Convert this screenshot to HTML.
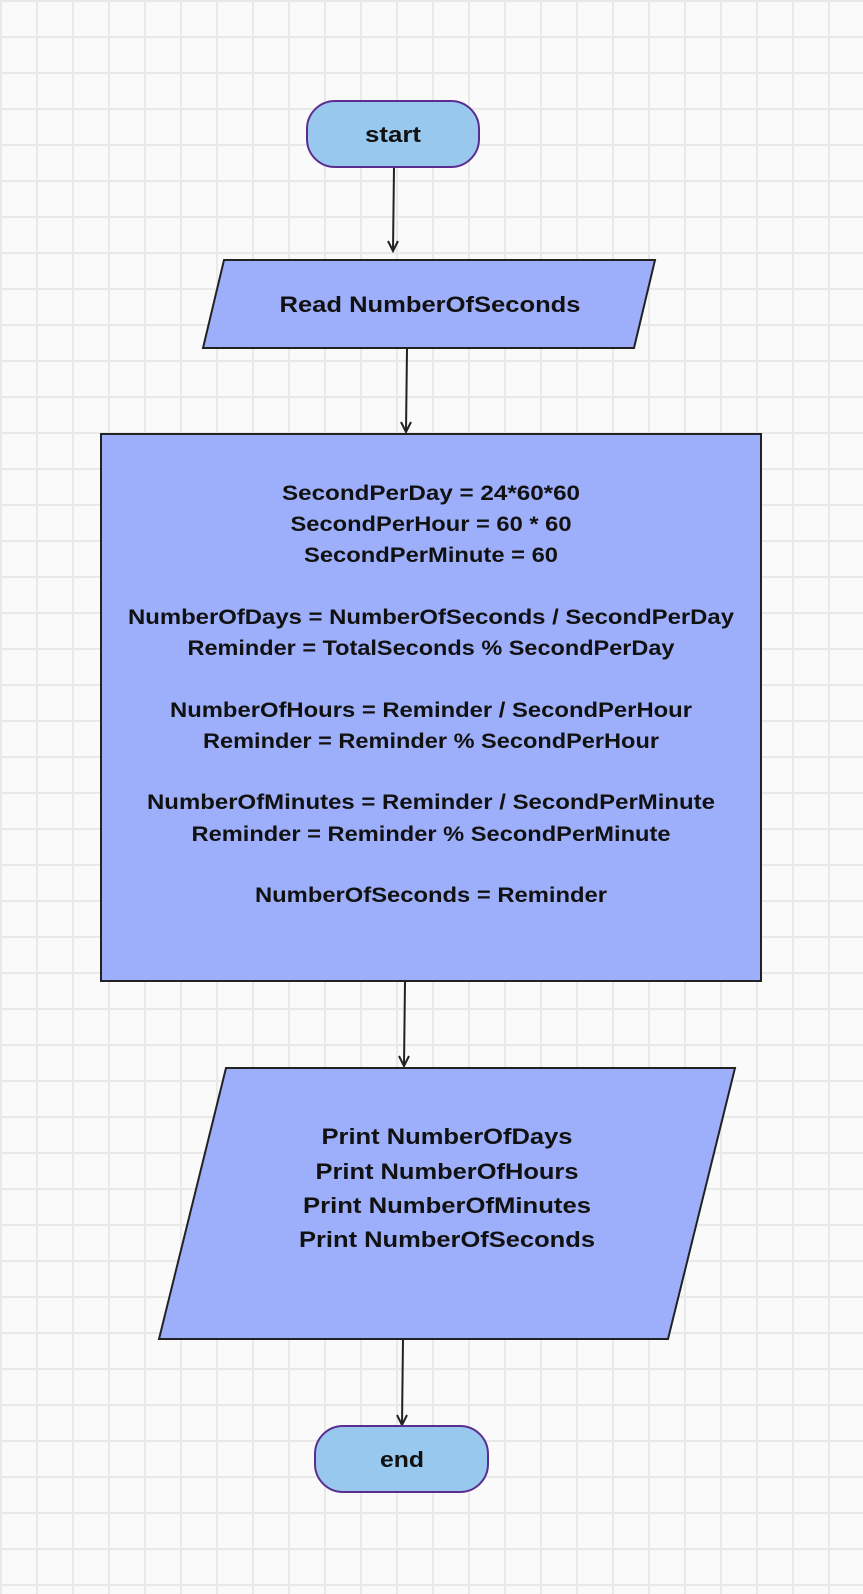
<!DOCTYPE html>
<html><head><meta charset="utf-8"><style>
html,body{margin:0;padding:0;background:#fafafa;}
svg{display:block;}
text{font-family:"Liberation Sans",sans-serif;font-weight:bold;fill:#111;text-anchor:middle;}
</style></head><body>
<svg width="863" height="1594" viewBox="0 0 863 1594" xmlns="http://www.w3.org/2000/svg">
<defs>
<pattern id="g" width="36" height="36" patternUnits="userSpaceOnUse">
<rect width="36" height="36" fill="#fafafa"/>
<rect x="0" y="0" width="2" height="36" fill="#e9e9e9"/>
<rect x="0" y="0" width="36" height="2" fill="#e9e9e9"/>
</pattern>
<marker id="a" markerWidth="14" markerHeight="14" refX="7" refY="12" orient="auto-start-reverse" markerUnits="userSpaceOnUse" viewBox="0 0 14 14">
</marker>
</defs>
<rect x="-1" y="-1" width="865" height="1596" fill="url(#g)"/>

<g stroke="#222" stroke-width="2" fill="none">
<line x1="394" y1="167" x2="393" y2="251"/><polyline points="388,241 393,251 398,241"/>
<line x1="407" y1="348" x2="406" y2="432"/><polyline points="401,422 406,432 411,422"/>
<line x1="405" y1="981" x2="404" y2="1066"/><polyline points="399,1056 404,1066 409,1056"/>
<line x1="403" y1="1339" x2="402" y2="1425"/><polyline points="397,1415 402,1425 407,1415"/>
</g>

<rect x="307" y="101" width="172" height="66" rx="28" fill="#99c8ee" stroke="#5b2d90" stroke-width="2"/>
<text x="393" y="142" font-size="22" textLength="56" lengthAdjust="spacingAndGlyphs">start</text>

<polygon points="224,260 655,260 634,348 203,348" fill="#9daffa" stroke="#222" stroke-width="2"/>
<text x="430" y="312" font-size="22" textLength="301" lengthAdjust="spacingAndGlyphs">Read NumberOfSeconds</text>

<rect x="101" y="434" width="660" height="547" fill="#9daffa" stroke="#222" stroke-width="2"/>
<g font-size="21">
<text x="431" y="500" textLength="298" lengthAdjust="spacingAndGlyphs">SecondPerDay = 24*60*60</text>
<text x="431" y="531" textLength="281" lengthAdjust="spacingAndGlyphs">SecondPerHour = 60 * 60</text>
<text x="431" y="562" textLength="254" lengthAdjust="spacingAndGlyphs">SecondPerMinute = 60</text>
<text x="431" y="624" textLength="606" lengthAdjust="spacingAndGlyphs">NumberOfDays = NumberOfSeconds / SecondPerDay</text>
<text x="431" y="655" textLength="487" lengthAdjust="spacingAndGlyphs">Reminder = TotalSeconds % SecondPerDay</text>
<text x="431" y="717" textLength="522" lengthAdjust="spacingAndGlyphs">NumberOfHours = Reminder / SecondPerHour</text>
<text x="431" y="748" textLength="456" lengthAdjust="spacingAndGlyphs">Reminder = Reminder % SecondPerHour</text>
<text x="431" y="809" textLength="568" lengthAdjust="spacingAndGlyphs">NumberOfMinutes = Reminder / SecondPerMinute</text>
<text x="431" y="841" textLength="479" lengthAdjust="spacingAndGlyphs">Reminder = Reminder % SecondPerMinute</text>
<text x="431" y="902" textLength="352" lengthAdjust="spacingAndGlyphs">NumberOfSeconds = Reminder</text>
</g>

<polygon points="226,1068 735,1068 668,1339 159,1339" fill="#9daffa" stroke="#222" stroke-width="2"/>
<g font-size="22">
<text x="447" y="1144" textLength="251" lengthAdjust="spacingAndGlyphs">Print NumberOfDays</text>
<text x="447" y="1179" textLength="263" lengthAdjust="spacingAndGlyphs">Print NumberOfHours</text>
<text x="447" y="1213" textLength="288" lengthAdjust="spacingAndGlyphs">Print NumberOfMinutes</text>
<text x="447" y="1247" textLength="296" lengthAdjust="spacingAndGlyphs">Print NumberOfSeconds</text>
</g>

<rect x="315" y="1426" width="173" height="66" rx="28" fill="#99c8ee" stroke="#5b2d90" stroke-width="2"/>
<text x="402" y="1467" font-size="22" textLength="44" lengthAdjust="spacingAndGlyphs">end</text>
</svg>
</body></html>
